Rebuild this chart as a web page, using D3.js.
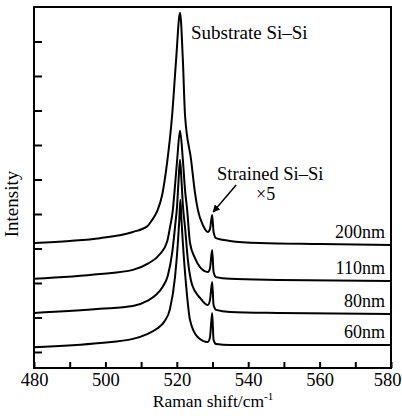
<!DOCTYPE html>
<html>
<head>
<meta charset="utf-8">
<script src="https://cdn.jsdelivr.net/npm/d3@7"></script>
<style>
  body { margin: 0; background: #fff; }
  svg text { font-family: "Liberation Serif", "Times New Roman", serif; fill: #000; }
</style>
</head>
<body>
<div id="chart"></div>
<script>
// Raman spectra: [shift (cm-1), intensity (a.u., offset)]
var thicknesses = ["200nm", "110nm", "80nm", "60nm"];

var s200 = [[480,3.16],[490,3.22],[498.5,3.30],[507.7,3.48],[511.7,3.64],[513.1,3.83],[514.5,4.08],
    [515.9,4.55],[517.3,5.50],[518.7,6.87],[519.8,8.46],[520.9,9.83],[521.7,8.46],[522.3,6.87],
    [524.0,5.57],[525.1,4.61],[525.9,4.12],[527.3,3.68],[528.7,3.48],[529.3,3.57],[529.9,3.97],
    [530.3,3.48],[531.0,3.30],[534.9,3.22],[543.3,3.16],[560.1,3.13],[580,3.10]];

var s110 = [[480,2.12],[498.5,2.26],[507.7,2.38],[511.9,2.56],[515.3,2.84],[517.3,3.20],[518.1,3.62],
    [518.9,4.12],[519.4,4.70],[520.1,5.57],[520.9,6.41],[521.7,5.57],[522.3,4.70],[522.9,4.12],
    [523.7,3.16],[525.1,2.72],[526.5,2.46],[528.7,2.32],[529.3,2.43],[529.9,2.96],[530.3,2.32],
    [531.0,2.17],[534.9,2.12],[548.9,2.09],[580,2.06]];

var s80 = [[480,1.13],[498.5,1.25],[507.7,1.33],[511.7,1.48],[514.2,1.66],[516.1,1.90],[517.5,2.22],
    [518.7,2.87],[519.5,3.62],[520.1,4.26],[520.5,4.99],[520.9,5.57],[521.3,4.99],[521.7,4.26],
    [522.3,3.62],[523.1,2.67],[524.3,1.94],[526.5,1.57],[528.7,1.36],[529.3,1.51],[529.9,2.03],
    [530.3,1.36],[531.0,1.22],[534.9,1.16],[548.9,1.13],[580,1.10]];

var s60 = [[480,0.14],[498.5,0.26],[507.7,0.38],[511.7,0.52],[514.5,0.68],[516.5,0.88],[518.1,1.25],
    [519.5,2.17],[520.3,3.16],[520.7,3.83],[521.0,4.41],[521.3,3.83],[521.7,3.16],[522.6,1.94],
    [523.7,0.93],[525.9,0.43],[528.7,0.29],[529.3,0.43],[529.9,1.13],[530.3,0.35],[531.0,0.23],
    [534.9,0.20],[580,0.20]];

var series = [s200, s110, s80, s60];
var xTicks = d3.range(480, 581, 10);
var yTicks = d3.range(0, 10);

var w = 402, h = 416;
var margin = {top: 7, right: 11, bottom: 48, left: 34};

var svg = d3.select("#chart").append("svg")
    .attr("width", w)
    .attr("height", h);

var x = d3.scaleLinear().domain([480, 580]).range([margin.left, w - margin.right]);
var y = d3.scaleLinear().domain([-0.464, 10]).range([h - margin.bottom, margin.top]);

// frame
svg.append("rect")
    .attr("x", x(480)).attr("y", y(10))
    .attr("width", x(580) - x(480)).attr("height", y(-0.464) - y(10))
    .attr("fill", "none").attr("stroke", "#000").attr("stroke-width", 2);

var xAxis = svg.append("g")
    .attr("transform", "translate(0," + y(-0.464) + ")")
    .call(d3.axisBottom(x).tickValues(xTicks).tickSize(-6).tickPadding(5)
        .tickFormat(function(d){ return d % 20 === 0 ? d : ""; }));
xAxis.select(".domain").remove();
xAxis.selectAll("line").attr("stroke-width", 2);
xAxis.selectAll("text").style("font-size", "18.5px");
// last label sits against the right edge
xAxis.selectAll("text").filter(function(d){ return d === 580; })
    .attr("text-anchor", "end").attr("x", w - 1 - x(580));

var yAxis = svg.append("g")
    .attr("transform", "translate(" + x(480) + ",0)")
    .call(d3.axisLeft(y).tickValues(yTicks).tickSize(-8).tickFormat(""));
yAxis.select(".domain").remove();
yAxis.selectAll("line").attr("stroke-width", 2);

var line = d3.line()
    .x(function(d){ return x(d[0]); })
    .y(function(d){ return y(d[1]); })
    .curve(d3.curveMonotoneX);

svg.selectAll(".spectrum")
    .data(series)
    .enter().append("path")
    .attr("class", "spectrum")
    .attr("d", line)
    .attr("fill", "none")
    .attr("stroke", "#000")
    .attr("stroke-width", 2)
    .attr("stroke-linejoin", "round");

// thickness labels, sitting just above each baseline on the right
svg.selectAll(".thick")
    .data(thicknesses)
    .enter().append("text")
    .attr("class", "thick")
    .attr("x", x(578.3))
    .attr("y", function(d, i){ return y(series[i][series[i].length - 1][1]) - 7; })
    .attr("text-anchor", "end")
    .style("font-size", "18px")
    .text(function(d){ return d; });

// annotations
svg.append("text")
    .attr("x", 191).attr("y", 39)
    .style("font-size", "19px")
    .text("Substrate Si\u2013Si");

svg.append("text")
    .attr("x", 217).attr("y", 180)
    .style("font-size", "18.5px")
    .text("Strained Si\u2013Si");

svg.append("text")
    .attr("x", 256).attr("y", 200)
    .style("font-size", "18px")
    .text("\u00d75");

svg.append("defs").append("marker")
    .attr("id", "head")
    .attr("viewBox", "0 0 10 10")
    .attr("refX", 9).attr("refY", 5)
    .attr("markerWidth", 5).attr("markerHeight", 5)
    .attr("orient", "auto")
    .append("path")
    .attr("d", "M0,0 L10,5 L0,10 z")
    .attr("fill", "#000");

var tipX = x(529.9) + 1, tipY = y(3.97) - 3;
svg.append("line")
    .attr("x1", tipX + 23).attr("y1", tipY - 27)
    .attr("x2", tipX).attr("y2", tipY)
    .attr("stroke", "#000").attr("stroke-width", 1.5)
    .attr("marker-end", "url(#head)");

// axis titles
var xt = svg.append("text")
    .attr("x", 213).attr("y", 407)
    .attr("text-anchor", "middle")
    .style("font-size", "17.5px")
    .text("Raman shift/cm");
xt.append("tspan")
    .attr("dy", "-7")
    .style("font-size", "11px")
    .text("-1");

svg.append("text")
    .attr("transform", "translate(18,204) rotate(-90)")
    .attr("text-anchor", "middle")
    .style("font-size", "19px")
    .text("Intensity");
</script>
</body>
</html>
